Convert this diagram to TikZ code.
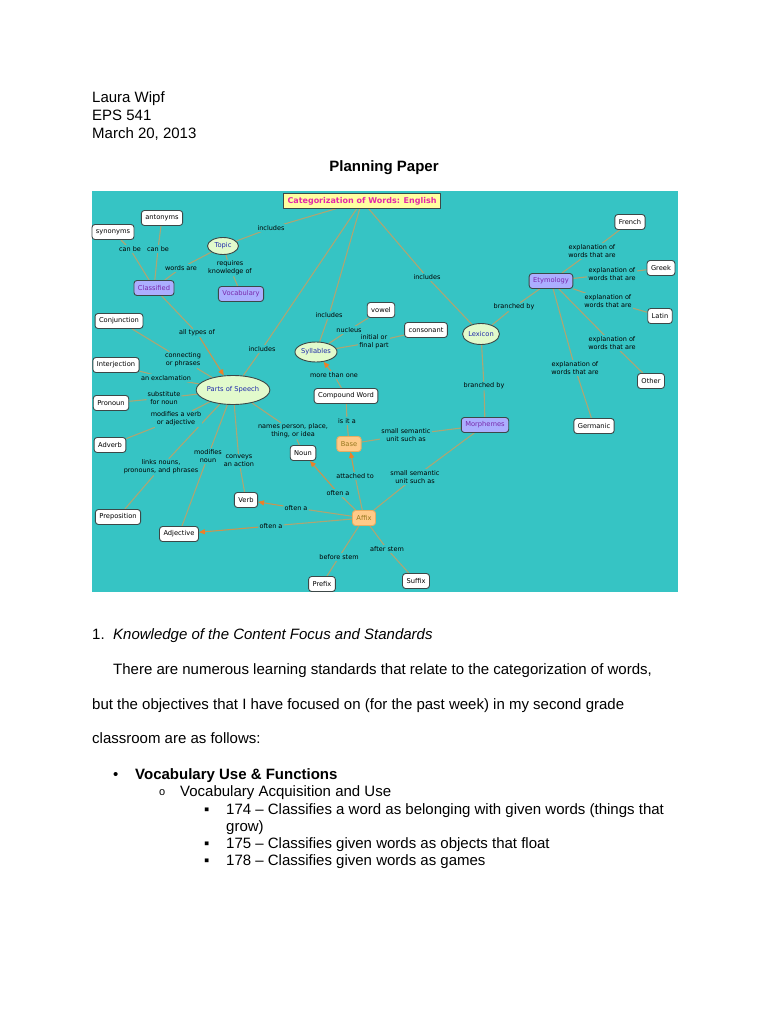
\documentclass[tikz,border=0pt]{standalone}
\usepackage{fontspec}
\setmainfont{Liberation Sans}
\newfontfamily\mapfont{DejaVu Sans}
\usetikzlibrary{shapes.geometric, arrows.meta}

\definecolor{mapbg}{RGB}{54,196,196}
\definecolor{linkcol}{RGB}{172,166,116}
\definecolor{arrowcol}{RGB}{236,128,40}
\definecolor{titlefill}{RGB}{255,255,160}
\definecolor{titletext}{RGB}{228,40,168}
\definecolor{lavender}{RGB}{172,174,255}
\definecolor{violettext}{RGB}{120,40,170}
\definecolor{ovalfill}{RGB}{226,250,204}
\definecolor{ovaltext}{RGB}{30,40,170}
\definecolor{peach}{RGB}{255,202,136}
\definecolor{peachline}{RGB}{232,172,96}
\definecolor{peachtext}{RGB}{150,120,30}
\definecolor{boxline}{RGB}{60,72,72}

\pgfdeclarelayer{bg}
\pgfdeclarelayer{links}
\pgfsetlayers{bg,links,main}

\begin{document}
\begin{tikzpicture}[x=1pt, y=-1pt, line cap=round, line join=round,
    box/.style={draw=boxline, line width=0.9pt, fill=white, rounded corners=3pt,
      font=\mapfont\fontsize{6.7}{7}\selectfont, minimum height=15pt, inner xsep=4pt},
    purplebox/.style={box, fill=lavender, text=violettext},
    orangebox/.style={box, draw=peachline, fill=peach, text=peachtext},
    oval/.style={ellipse, draw=boxline, line width=0.9pt, fill=ovalfill, text=ovaltext,
      font=\mapfont\fontsize{6.7}{7}\selectfont, inner xsep=0pt, inner ysep=1pt},
    titlebox/.style={draw=boxline, line width=0.9pt, fill=titlefill, text=titletext,
      font=\mapfont\bfseries\fontsize{8}{9}\selectfont, inner xsep=4pt, minimum height=14pt},
    lbl/.style={fill=mapbg, align=center, inner sep=1pt,
      font=\mapfont\fontsize{6.5}{8}\selectfont},
    link/.style={draw=linkcol, line width=1.1pt},
    arrowlink/.style={draw=linkcol!55!arrowcol, line width=1.1pt,
      -{Triangle[length=6pt, width=5pt, color=arrowcol]}},
    doc/.style={anchor=base west, inner sep=0pt, font=\fontsize{15}{18}\selectfont}]

  \useasboundingbox (0,0) rectangle (768,1024);
  \begin{pgfonlayer}{bg}
    \fill[white] (0,0) rectangle (768,1024);
    \fill[mapbg] (92,191) rectangle (678,592);
  \end{pgfonlayer}

  % heading of the paper
  \node[doc] (name) at (92,103) {Laura Wipf};
  \node[doc] (course) at (92,121) {EPS 541};
  \node[doc] (date) at (92,139) {March 20, 2013};
  \node[doc, anchor=base, font=\fontsize{15}{18}\selectfont\bfseries] (paper) at (384,172) {Planning Paper};

  % concepts
  \node[titlebox] (title) at (362,201) {Categorization of Words: English};
  \node[box] (antonyms) at (162,218) {antonyms};
  \node[box] (synonyms) at (113,232) {synonyms};
  \node[oval, minimum width=31pt, minimum height=17pt] (topic) at (223,246) {Topic};
  \node[purplebox] (classified) at (154,288) {Classified};
  \node[purplebox] (vocab) at (241,294) {Vocabulary};
  \node[box] (conj) at (119,321) {Conjunction};
  \node[box] (interj) at (116,365) {Interjection};
  \node[box] (pronoun) at (111,403) {Pronoun};
  \node[box] (adverb) at (110,445) {Adverb};
  \node[box] (prep) at (118,517) {Preposition};
  \node[box] (adjective) at (179,534) {Adjective};
  \node[box] (verb) at (246,500) {Verb};
  \node[oval, minimum width=64pt, minimum height=29pt] (pos) at (233,390) {Parts of Speech};
  \node[box] (noun) at (303,453) {Noun};
  \node[orangebox] (base) at (349,444) {Base};
  \node[box] (compound) at (346,396) {Compound Word};
  \node[oval, minimum width=42pt, minimum height=20pt] (syllables) at (316,352) {Syllables};
  \node[box] (vowel) at (381,310) {vowel};
  \node[box] (consonant) at (426,330) {consonant};
  \node[oval, minimum width=37pt, minimum height=21pt] (lexicon) at (481,334) {Lexicon};
  \node[purplebox] (morphemes) at (485,425) {Morphemes};
  \node[purplebox] (etymology) at (551,281) {Etymology};
  \node[box] (french) at (630,222) {French};
  \node[box] (greek) at (661,268) {Greek};
  \node[box] (latin) at (660,316) {Latin};
  \node[box] (other) at (651,381) {Other};
  \node[box] (germanic) at (594,426) {Germanic};
  \node[orangebox] (affix) at (364,518) {Affix};
  \node[box] (prefix) at (322,584) {Prefix};
  \node[box] (suffix) at (416,581) {Suffix};

  % linking phrases
  \node[lbl] (incTopic) at (271,228) {includes};
  \node[lbl] (canA) at (130,249) {can be};
  \node[lbl] (canB) at (158,249) {can be};
  \node[lbl] (wordsAre) at (181,268) {words are};
  \node[lbl] (requires) at (230,268) {requires\\knowledge of};
  \node[lbl] (incLex) at (427,277) {includes};
  \node[lbl] (incPos) at (262,349) {includes};
  \node[lbl] (incSyl) at (329,315) {includes};
  \node[lbl] (allTypes) at (197,333) {all types of};
  \node[lbl] (connecting) at (183,360) {connecting\\or phrases};
  \node[lbl] (exclam) at (166,378) {an exclamation};
  \node[lbl] (substitute) at (164,398) {substitute\\for noun};
  \node[lbl] (modVerb) at (176,419) {modifies a verb\\or adjective};
  \node[lbl] (names) at (293,431) {names person, place,\\thing, or idea};
  \node[lbl] (linksNouns) at (161,467) {links nouns,\\pronouns, and phrases};
  \node[lbl] (modNoun) at (208,456) {modifies\\noun};
  \node[lbl] (conveys) at (239,461) {conveys\\an action};
  \node[lbl] (nucleus) at (349,330) {nucleus};
  \node[lbl] (initial) at (374,342) {initial or\\final part};
  \node[lbl] (moreThan) at (334,375) {more than one};
  \node[lbl] (isIt) at (347,421) {is it a};
  \node[lbl] (unitBase) at (406,435) {small semantic\\unit such as};
  \node[lbl] (unitAffix) at (415,477) {small semantic\\unit such as};
  \node[lbl] (branchEty) at (514,307) {branched by};
  \node[lbl] (branchMor) at (484,386) {branched by};
  \node[lbl] (expFrench) at (592,251) {explanation of\\words that are};
  \node[lbl] (expGreek) at (612,274) {explanation of\\words that are};
  \node[lbl] (expLatin) at (608,301) {explanation of\\words that are};
  \node[lbl] (expOther) at (612,343) {explanation of\\words that are};
  \node[lbl] (expGerm) at (575,368) {explanation of\\words that are};
  \node[lbl] (oftenNoun) at (338,493) {often a};
  \node[lbl] (attached) at (355,476) {attached to};
  \node[lbl] (oftenVerb) at (296,508) {often a};
  \node[lbl] (oftenAdj) at (271,526) {often a};
  \node[lbl] (before) at (339,557) {before stem};
  \node[lbl] (after) at (387,549) {after stem};

  % connectors
  \begin{pgfonlayer}{links}
    \draw[link] (title) -- (incTopic) -- (topic);
    \draw[link] (title) -- (incPos) -- (pos);
    \draw[link] (title) -- (incSyl) -- (syllables);
    \draw[link] (title) -- (incLex) -- (lexicon);
    \draw[link] (topic) -- (wordsAre) -- (classified);
    \draw[link] (topic) -- (requires) -- (vocab);
    \draw[link] (classified) -- (canA) -- (synonyms);
    \draw[link] (classified) -- (canB) -- (antonyms);
    \draw[link] (classified) -- (allTypes);
    \draw[arrowlink] (allTypes) -- (pos);
    \draw[link] (pos) -- (connecting) -- (conj);
    \draw[link] (pos) -- (exclam) -- (interj);
    \draw[link] (pos) -- (substitute) -- (pronoun);
    \draw[link] (pos) -- (modVerb) -- (adverb);
    \draw[link] (pos) -- (linksNouns) -- (prep);
    \draw[link] (pos) -- (modNoun) -- (adjective);
    \draw[link] (pos) -- (conveys) -- (verb);
    \draw[link] (pos) -- (names) -- (noun);
    \draw[link] (syllables) -- (nucleus) -- (vowel);
    \draw[link] (syllables) -- (initial) -- (consonant);
    \draw[link] (compound) -- (moreThan);
    \draw[arrowlink] (moreThan) -- (syllables);
    \draw[link] (compound) -- (isIt) -- (base);
    \draw[link] (morphemes) -- (unitBase) -- (base);
    \draw[link] (morphemes) -- (unitAffix) -- (affix);
    \draw[link] (lexicon) -- (branchEty) -- (etymology);
    \draw[link] (lexicon) -- (branchMor) -- (morphemes);
    \draw[link] (etymology) -- (expFrench) -- (french);
    \draw[link] (etymology) -- (expGreek) -- (greek);
    \draw[link] (etymology) -- (expLatin) -- (latin);
    \draw[link] (etymology) -- (expOther) -- (other);
    \draw[link] (etymology) -- (expGerm) -- (germanic);
    \draw[link] (affix) -- (oftenNoun);
    \draw[arrowlink] (oftenNoun) -- (noun);
    \draw[link] (affix) -- (attached);
    \draw[arrowlink] (attached) -- (base);
    \draw[link] (affix) -- (oftenVerb);
    \draw[arrowlink] (oftenVerb) -- (verb);
    \draw[link] (affix) -- (oftenAdj);
    \draw[arrowlink] (oftenAdj) -- (adjective);
    \draw[link] (affix) -- (before) -- (prefix);
    \draw[link] (affix) -- (after) -- (suffix);
  \end{pgfonlayer}

  % text below the map
  \node[doc] (num) at (92,639) {1.};
  \node[doc, font=\fontsize{15}{18}\selectfont\itshape] (focus) at (113,639) {Knowledge of the Content Focus and Standards};
  \node[doc] (par1) at (113,674) {There are numerous learning standards that relate to the categorization of words,};
  \node[doc] (par2) at (92,709) {but the objectives that I have focused on (for the past week) in my second grade};
  \node[doc] (par3) at (92,743) {classroom are as follows:};
  \node[doc] (dot1) at (113,779) {•};
  \node[doc, font=\fontsize{15}{18}\selectfont\bfseries] (use) at (135,779) {Vocabulary Use \& Functions};
  \node[doc, font=\fontsize{11}{12}\selectfont] (dot2) at (159,795) {o};
  \node[doc] (acq) at (180,796) {Vocabulary Acquisition and Use};
  \node[doc] (sq1) at (204,814) {▪};
  \node[doc] (std1) at (226,814) {174 – Classifies a word as belonging with given words (things that};
  \node[doc] (grow) at (226,831) {grow)};
  \node[doc] (sq2) at (204,848) {▪};
  \node[doc] (std2) at (226,848) {175 – Classifies given words as objects that float};
  \node[doc] (sq3) at (204,865) {▪};
  \node[doc] (std3) at (226,865) {178 – Classifies given words as games};
\end{tikzpicture}
\end{document}
